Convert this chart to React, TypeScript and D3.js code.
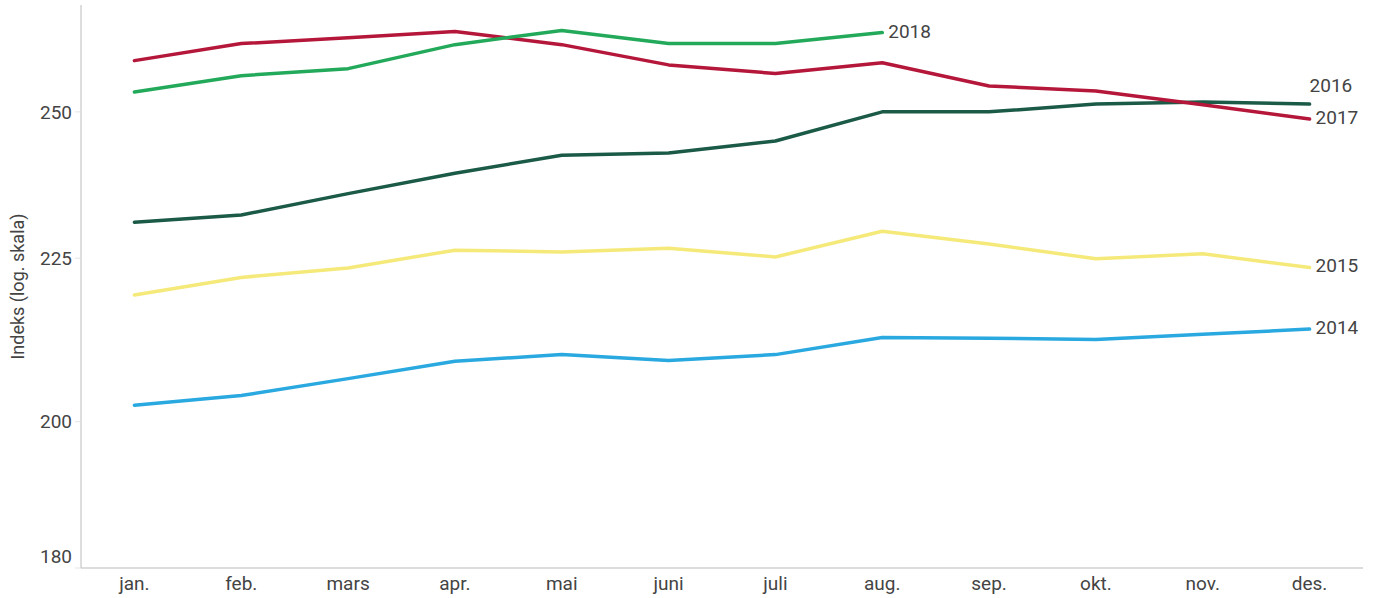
import React, { useRef, useEffect } from 'react';
import * as d3 from 'd3';

const months = ['jan.', 'feb.', 'mars', 'apr.', 'mai', 'juni', 'juli', 'aug.', 'sep.', 'okt.', 'nov.', 'des.'];
const yTicks = [180, 200, 225, 250];

const s2014 = [202.4, 203.8, 206.3, 208.9, 209.9, 209.0, 209.9, 212.5, 212.4, 212.2, 213.0, 213.8];
const s2015 = [219.1, 221.9, 223.4, 226.3, 226.0, 226.6, 225.2, 229.4, 227.3, 224.9, 225.7, 223.5];
const s2016 = [230.9, 232.1, 235.7, 239.2, 242.3, 242.7, 244.8, 250.0, 250.0, 251.4, 251.8, 251.4];
const s2017 = [259.4, 262.6, 263.7, 264.9, 262.4, 258.6, 257.0, 259.0, 254.7, 253.8, 251.3, 248.7];
const s2018 = [253.6, 256.6, 257.9, 262.4, 265.1, 262.6, 262.6, 264.7];

const series = [
  { name: '2014', values: s2014, color: '#29a9e0', dx: 6, dy: -2 },
  { name: '2015', values: s2015, color: '#f5e97a', dx: 6, dy: -2 },
  { name: '2016', values: s2016, color: '#1b5a47', dx: 0, dy: -19 },
  { name: '2017', values: s2017, color: '#b5173a', dx: 6, dy: -2 },
  { name: '2018', values: s2018, color: '#23a95a', dx: 6, dy: -1 },
];

export default function App() {
  const svgRef = useRef<SVGSVGElement>(null);

  useEffect(() => {
    if (!svgRef.current) return;
    const svg = d3.select(svgRef.current);
    svg.selectAll('*').remove();

    const width = 1376;
    const height = 598;
    const margin = { top: 5, right: 13, bottom: 30, left: 81 };
    const font = 'Roboto, "DejaVu Sans", sans-serif';
    const textColor = '#444';

    const x = d3.scalePoint<string>()
      .domain(months)
      .range([margin.left, width - margin.right])
      .padding(0.5);

    const y = d3.scaleLog()
      .domain([180, 270])
      .range([height - margin.bottom, margin.top]);

    // Axes lines
    svg.append('line')
      .attr('x1', margin.left).attr('x2', margin.left)
      .attr('y1', margin.top).attr('y2', height - margin.bottom)
      .attr('stroke', '#bbb').attr('stroke-width', 1);
    svg.append('line')
      .attr('x1', margin.left).attr('x2', width - margin.right)
      .attr('y1', height - margin.bottom).attr('y2', height - margin.bottom)
      .attr('stroke', '#bbb').attr('stroke-width', 1);

    // Y ticks
    const yt = svg.append('g');
    yTicks.forEach((t, i) => {
      yt.append('line')
        .attr('x1', margin.left - 6).attr('x2', margin.left)
        .attr('y1', y(t)).attr('y2', y(t))
        .attr('stroke', '#e4e4e4');
      yt.append('text')
        .attr('x', margin.left - 9)
        .attr('y', y(t) - (i === 0 ? 12 : 0))
        .attr('dy', '0.35em')
        .attr('text-anchor', 'end')
        .attr('font-family', font)
        .attr('font-size', '19px')
        .attr('fill', textColor)
        .text(t);
    });

    // X labels
    svg.append('g').selectAll('text')
      .data(months)
      .enter().append('text')
      .attr('x', d => x(d)!)
      .attr('y', height - margin.bottom + 15)
      .attr('dy', '0.35em')
      .attr('text-anchor', 'middle')
      .attr('font-family', font)
      .attr('font-size', '19px')
      .attr('fill', textColor)
      .text(d => d);

    // Y title
    svg.append('text')
      .attr('transform', `translate(18,${(margin.top + height - margin.bottom) / 2}) rotate(-90)`)
      .attr('text-anchor', 'middle')
      .attr('dy', '0.35em')
      .attr('font-family', font)
      .attr('font-size', '18px')
      .attr('fill', textColor)
      .text('Indeks (log. skala)');

    const line = d3.line<number>()
      .x((_, i) => x(months[i])!)
      .y(d => y(d));

    series.forEach(s => {
      svg.append('path')
        .datum(s.values)
        .attr('fill', 'none')
        .attr('stroke', s.color)
        .attr('stroke-width', 3.5)
        .attr('stroke-linejoin', 'round')
        .attr('stroke-linecap', 'round')
        .attr('d', line);

      const last = s.values.length - 1;
      svg.append('text')
        .attr('x', x(months[last])! + s.dx)
        .attr('y', y(s.values[last]) + s.dy)
        .attr('dy', '0.35em')
        .attr('font-family', font)
        .attr('font-size', '19px')
        .attr('fill', textColor)
        .text(s.name);
    });
  }, []);

  return (
    <svg
      ref={svgRef}
      width={1376}
      height={598}
      style={{ position: 'absolute', left: 0, top: 0, background: '#fff' }}
    />
  );
}
